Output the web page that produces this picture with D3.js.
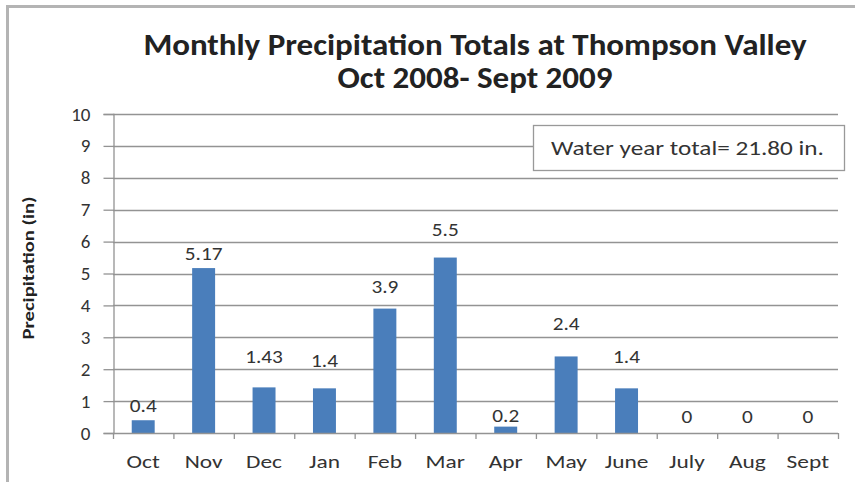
<!DOCTYPE html>
<html><head><meta charset="utf-8">
<script src="https://cdn.jsdelivr.net/npm/d3@7"></script>
<style>body{margin:0;background:#fff;} svg{display:block;}</style>
</head><body>
<svg id="chart" width="855" height="482"></svg>
<script>
const months = ["Oct","Nov","Dec","Jan","Feb","Mar","Apr","May","June","July","Aug","Sept"];
const precip = [0.4,5.17,1.43,1.4,3.9,5.5,0.2,2.4,1.4,0,0,0];
const valueLabels = ["0.4","5.17","1.43","1.4","3.9","5.5","0.2","2.4","1.4","0","0","0"];
// data-unit height at which each value label sits (as placed in the original)
const labelAt = [0.67,5.42,2.19,2.08,4.38,6.18,0.35,3.23,2.19,0.31,0.31,0.31];
const yTicks = [0,1,2,3,4,5,6,7,8,9,10];
const titleLines = ["Monthly Precipitation Totals at Thompson Valley","Oct 2008- Sept 2009"];
const yTitle = "Precipitation (in)";
const noteText = "Water year total= 21.80 in.";

const svg = d3.select("#chart");
const font = "Carlito, Lato, 'Open Sans', sans-serif";
const m = {left:113, right:838, top:114, bottom:433};

// frame
svg.append("rect").attr("x",0).attr("y",0).attr("width",855).attr("height",482).attr("fill","#fff");
svg.append("line").attr("x1",6).attr("x2",855).attr("y1",6.5).attr("y2",6.5).attr("stroke","#b4b4b4").attr("stroke-width",3);
svg.append("line").attr("x1",7.5).attr("x2",7.5).attr("y1",5).attr("y2",482).attr("stroke","#b4b4b4").attr("stroke-width",3);

const x = d3.scaleBand().domain(months).range([m.left,m.right]).paddingInner(0.62).paddingOuter(0.31);
const y = d3.scaleLinear().domain([0,10]).range([m.bottom,m.top]);

// gridlines
svg.append("g").selectAll("line").data(yTicks.filter(d=>d>0)).join("line")
  .attr("x1",m.left).attr("x2",m.right)
  .attr("y1",d=>Math.round(y(d))+0.5).attr("y2",d=>Math.round(y(d))+0.5)
  .attr("stroke","#939393").attr("stroke-width",1.3);

// y axis
const yAxis = svg.append("g").attr("transform",`translate(${m.left+0.5},0)`)
  .call(d3.axisLeft(y).tickValues(yTicks).tickSize(10).tickPadding(13).tickFormat(d3.format("d")));
yAxis.select(".domain").attr("stroke","#939393").attr("stroke-width",1.3);
yAxis.selectAll(".tick line").attr("stroke","#939393").attr("stroke-width",1.3);
yAxis.selectAll(".tick text").attr("font-family",font).attr("font-size",19).attr("fill","#333");

// bars
svg.append("g").selectAll("rect").data(precip).join("rect")
  .attr("x",(d,i)=>x(months[i])).attr("width",x.bandwidth())
  .attr("y",d=>y(d)).attr("height",d=>y(0)-y(d))
  .attr("fill","#4a7ebb");

// x axis
const step = x.step();
const xAxisG = svg.append("g");
xAxisG.append("line").attr("x1",m.left).attr("x2",m.right).attr("y1",y(0)+0.5).attr("y2",y(0)+0.5).attr("stroke","#939393").attr("stroke-width",1.3);
xAxisG.selectAll("line.tk").data(d3.range(months.length+1)).join("line").attr("class","tk")
  .attr("x1",i=>m.left+i*step+0.5).attr("x2",i=>m.left+i*step+0.5)
  .attr("y1",y(0)).attr("y2",y(0)+6).attr("stroke","#939393").attr("stroke-width",1.3);
xAxisG.selectAll("text").data(months).join("text")
  .attr("transform",d=>`translate(${x(d)+x.bandwidth()/2},468) scale(1.3,1)`)
  .attr("text-anchor","middle").attr("font-family",font).attr("font-size",18).attr("fill","#333")
  .text(d=>d);

// value labels
svg.append("g").selectAll("text").data(precip).join("text")
  .attr("transform",(d,i)=>`translate(${x(months[i])+x.bandwidth()/2},${y(labelAt[i])}) scale(1.12,1)`)
  .attr("text-anchor","middle").attr("font-family",font).attr("font-size",19).attr("fill","#333")
  .text((d,i)=>valueLabels[i]);

// title
svg.append("g").selectAll("text").data(titleLines).join("text")
  .attr("transform",(d,i)=>`translate(475,${55+i*33}) scale(1.1,1)`)
  .attr("text-anchor","middle").attr("font-family",font).attr("font-weight","bold").attr("font-size",30).attr("fill","#222")
  .text(d=>d);

// y title
svg.append("text").attr("transform",`translate(34,268) rotate(-90) scale(1.25,1)`)
  .attr("text-anchor","middle").attr("font-family",font).attr("font-weight","bold").attr("font-size",16.5).attr("fill","#222")
  .text(yTitle);

// note box
svg.append("rect").attr("x",533.5).attr("y",125.5).attr("width",311).attr("height",45)
  .attr("fill","#fff").attr("stroke","#999").attr("stroke-width",1.3);
svg.append("text").attr("transform","translate(551,155) scale(1.2,1)")
  .attr("font-family",font).attr("font-size",21).attr("fill","#333").text(noteText);
</script>
</body></html>
